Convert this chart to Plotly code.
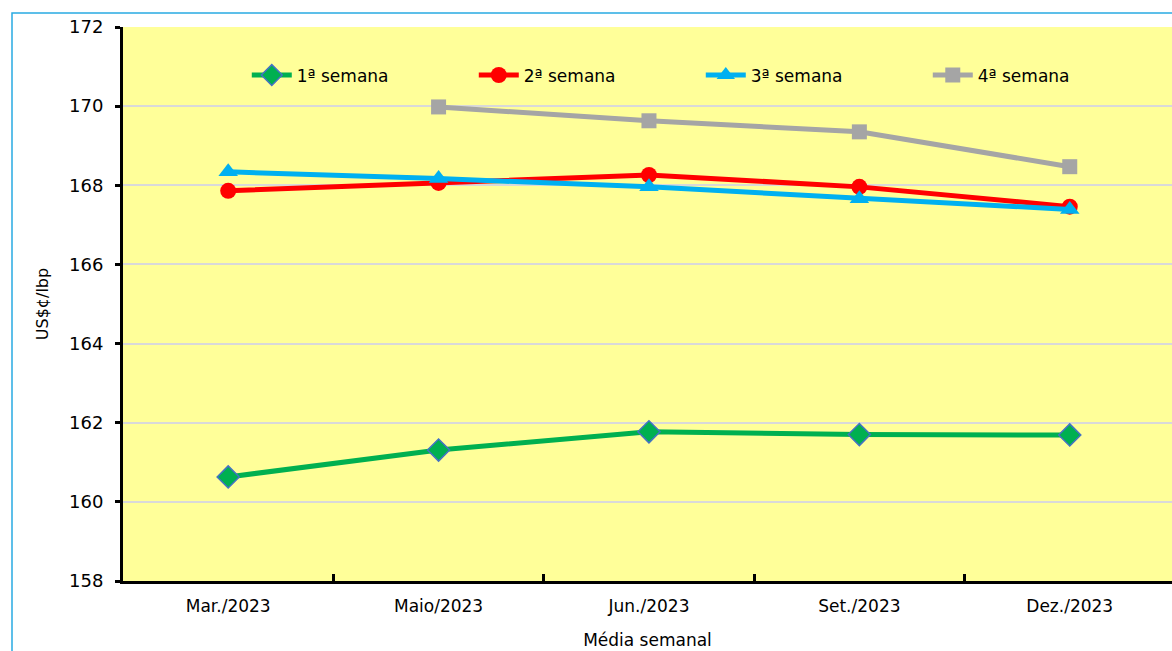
import plotly.graph_objects as go

# categories and weekly averages (US$ cents / lb)
meses = ['Mar./2023', 'Maio/2023', 'Jun./2023', 'Set./2023', 'Dez./2023']
semana1 = [160.63, 161.31, 161.77, 161.70, 161.69]
semana2 = [167.86, 168.06, 168.26, 167.96, 167.46]
semana3 = [168.34, 168.17, 167.96, 167.66, 167.39]
semana4 = [None, 169.98, 169.63, 169.35, 168.47]

FONT = 'DejaVu Sans'
W, H = 1172, 651
L, R, T, B = 123, 0, 27, 70

fig = go.Figure()
fig.add_trace(go.Scatter(x=meses, y=semana1, name='1ª semana', mode='lines+markers',
                         line=dict(color='#00b050', width=5),
                         marker=dict(symbol='diamond', size=17, color='#00b050',
                                     line=dict(color='#4472c4', width=1.5))))
fig.add_trace(go.Scatter(x=meses, y=semana2, name='2ª semana', mode='lines+markers',
                         line=dict(color='#ff0000', width=5),
                         marker=dict(symbol='circle', size=16, color='#ff0000')))
fig.add_trace(go.Scatter(x=meses, y=semana3, name='3ª semana', mode='lines+markers',
                         line=dict(color='#00b0f0', width=5),
                         marker=dict(symbol='triangle-up', size=17, color='#00b0f0')))
fig.add_trace(go.Scatter(x=meses, y=semana4, name='4ª semana', mode='lines+markers',
                         line=dict(color='#a5a5a5', width=5),
                         marker=dict(symbol='square', size=15, color='#a5a5a5')))

# light blue frame around the chart object
pw = W - L - R
ph = H - T - B
def px(x): return (x - L) / pw
def py(y): return (H - B - y) / ph
fig.add_shape(type='path', xref='paper', yref='paper',
              path=f'M {px(12)} {py(660)} L {px(12)} {py(13)} L {px(1180)} {py(13)}',
              line=dict(color='#29abe2', width=1.5), layer='above')

fig.update_layout(
    width=W, height=H,
    margin=dict(l=L, r=R, t=T, b=B),
    paper_bgcolor='white', plot_bgcolor='#ffff99',
    font=dict(family=FONT, size=15, color='black'),
    showlegend=True,
    hovermode=False,
    legend=dict(orientation='h', x=0.118, y=0.945, xanchor='left', yanchor='top',
                bgcolor='rgba(0,0,0,0)', font=dict(size=17, family=FONT),
                entrywidth=172, entrywidthmode='pixels', itemwidth=40),
    xaxis=dict(type='category', range=[-0.5, 4.486],
               showline=True, linecolor='black', linewidth=3,
               ticks='inside', tickson='boundaries', ticklen=7, tickwidth=3, tickcolor='black',
               showgrid=False, zeroline=False, ticklabelstandoff=8,
               tickfont=dict(size=17, family=FONT),
               title=dict(text='Média semanal', font=dict(size=17, family=FONT), standoff=19)),
    yaxis=dict(range=[158, 172], dtick=2,
               showline=True, linecolor='black', linewidth=3,
               ticks='outside', ticklen=5, tickwidth=3, tickcolor='black',
               showgrid=True, gridcolor='#d9d9d9', gridwidth=2, zeroline=False,
               ticklabelstandoff=8,
               tickfont=dict(size=18, family=FONT),
               title=dict(text='US$¢/lbp', font=dict(size=16, family=FONT), standoff=17)),
)

fig.write_html('out.html', config={'displayModeBar': False},
               post_script="document.body.style.margin='0';document.body.style.overflow='hidden';")
